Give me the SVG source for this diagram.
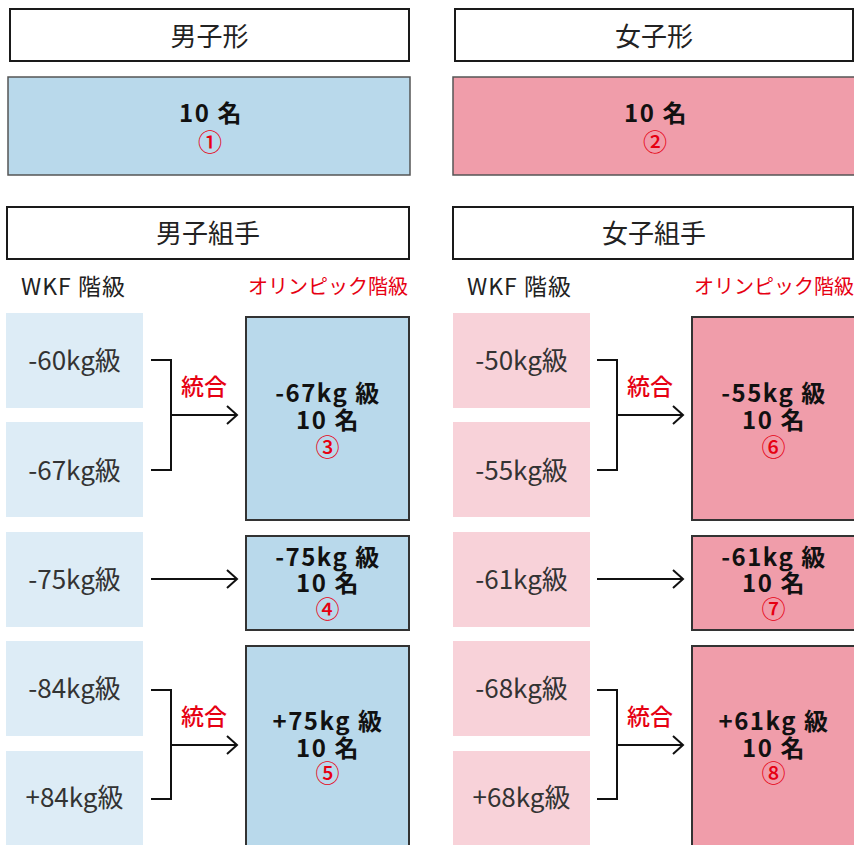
<svg xmlns="http://www.w3.org/2000/svg" width="854" height="845" viewBox="0 0 854 845">
<defs>
<style>
text{font-family:"Noto Sans CJK JP","Noto Sans",sans-serif;text-anchor:middle;}
.hdr{fill:#fff;stroke:#1a1a1a;stroke-width:2;}
.ht{font-size:26px;fill:#222;}
.bb{fill:#b9d9eb;stroke:#555;stroke-width:1.5;}
.pb{fill:#f09daa;stroke:#555;stroke-width:1.5;}
.bd{fill:#b9d9eb;stroke:#333;stroke-width:2;}
.pd{fill:#f09daa;stroke:#333;stroke-width:2;}
.lb{fill:#ddecf6;}
.lp{fill:#f8d2d9;}
.bt{font-size:24px;font-weight:bold;fill:#111;letter-spacing:1.5px;}
.num{font-size:24px;font-weight:500;fill:#e60012;}
.lt{font-size:26px;fill:#333;}
.wkf{font-size:23px;fill:#222;text-anchor:start;letter-spacing:1px;}
.oly{font-size:20px;fill:#e60012;text-anchor:start;}
.mg{font-size:23px;font-weight:500;fill:#e60012;}
.ln{fill:none;stroke:#111;stroke-width:2;}
</style>
</defs>

<g id="male-kata-header"><rect class="hdr" x="10" y="9" width="399" height="52"/><text class="ht" x="209.5" y="46">男子形</text></g>
<g id="male-kata"><rect class="bb" x="8" y="77" width="402" height="98"/><text class="bt" x="211" y="122">10 名</text><text class="num" x="210" y="151">①</text></g>
<g id="female-kata-header"><rect class="hdr" x="455" y="9" width="398" height="52"/><text class="ht" x="654" y="46">女子形</text></g>
<g id="female-kata"><rect class="pb" x="453" y="77" width="403" height="98"/><text class="bt" x="656" y="122">10 名</text><text class="num" x="655" y="151">②</text></g>

<g id="male-kumite-header"><rect class="hdr" x="7" y="207" width="402" height="52"/><text class="ht" x="208" y="243">男子組手</text></g>
<g id="female-kumite-header"><rect class="hdr" x="453" y="207" width="400" height="52"/><text class="ht" x="654" y="243">女子組手</text></g>

<g id="labels">
<text class="wkf" x="21" y="295">WKF 階級</text>
<text class="oly" x="248" y="294">オリンピック階級</text>
<text class="wkf" x="467" y="295">WKF 階級</text>
<text class="oly" x="694" y="294">オリンピック階級</text>
</g>

<g id="male-wkf">
<g id="m60"><rect class="lb" x="6" y="313" width="137" height="95"/><text class="lt" x="74.5" y="370">-60kg級</text></g>
<g id="m67"><rect class="lb" x="6" y="422" width="137" height="95"/><text class="lt" x="74.5" y="480">-67kg級</text></g>
<g id="m75"><rect class="lb" x="6" y="532" width="137" height="95"/><text class="lt" x="74.5" y="589">-75kg級</text></g>
<g id="m84"><rect class="lb" x="6" y="641" width="137" height="95"/><text class="lt" x="74.5" y="698">-84kg級</text></g>
<g id="mp84"><rect class="lb" x="6" y="751" width="137" height="95"/><text class="lt" x="74.5" y="807">+84kg級</text></g>
</g>

<g id="female-wkf">
<g id="f50"><rect class="lp" x="453" y="313" width="137" height="95"/><text class="lt" x="521.5" y="370">-50kg級</text></g>
<g id="f55"><rect class="lp" x="453" y="422" width="137" height="95"/><text class="lt" x="521.5" y="480">-55kg級</text></g>
<g id="f61"><rect class="lp" x="453" y="532" width="137" height="95"/><text class="lt" x="521.5" y="589">-61kg級</text></g>
<g id="f68"><rect class="lp" x="453" y="641" width="137" height="95"/><text class="lt" x="521.5" y="698">-68kg級</text></g>
<g id="fp68"><rect class="lp" x="453" y="751" width="137" height="95"/><text class="lt" x="521.5" y="807">+68kg級</text></g>
</g>

<g id="male-olympic">
<g id="mo67"><rect class="bd" x="246" y="317" width="163" height="203"/><text class="bt" x="328" y="402">-67kg 級</text><text class="bt" x="328" y="429">10 名</text><text class="num" x="327.5" y="456">③</text></g>
<g id="mo75"><rect class="bd" x="246" y="536" width="163" height="94"/><text class="bt" x="328" y="566">-75kg 級</text><text class="bt" x="328" y="592">10 名</text><text class="num" x="327.5" y="618">④</text></g>
<g id="mop75"><rect class="bd" x="246" y="646" width="163" height="215"/><text class="bt" x="328" y="730">+75kg 級</text><text class="bt" x="328" y="757">10 名</text><text class="num" x="327.5" y="782">⑤</text></g>
</g>

<g id="female-olympic">
<g id="fo55"><rect class="pd" x="692" y="317" width="163" height="203"/><text class="bt" x="774" y="402">-55kg 級</text><text class="bt" x="774" y="429">10 名</text><text class="num" x="773.5" y="456">⑥</text></g>
<g id="fo61"><rect class="pd" x="692" y="536" width="163" height="94"/><text class="bt" x="774" y="566">-61kg 級</text><text class="bt" x="774" y="592">10 名</text><text class="num" x="773.5" y="618">⑦</text></g>
<g id="fop61"><rect class="pd" x="692" y="646" width="163" height="215"/><text class="bt" x="774" y="730">+61kg 級</text><text class="bt" x="774" y="757">10 名</text><text class="num" x="773.5" y="782">⑧</text></g>
</g>

<g id="connectors">
<polyline class="ln" points="151,360 171,360 171,470 151,470"/>
<line class="ln" x1="171" y1="415" x2="237" y2="415"/>
<polyline class="ln" points="227,406 237,415 227,424"/>
<line class="ln" x1="151" y1="579" x2="237" y2="579"/>
<polyline class="ln" points="227,570 237,579 227,588"/>
<polyline class="ln" points="151,690 171,690 171,799 151,799"/>
<line class="ln" x1="171" y1="745" x2="237" y2="745"/>
<polyline class="ln" points="227,736 237,745 227,754"/>

<polyline class="ln" points="597,360 617,360 617,470 597,470"/>
<line class="ln" x1="617" y1="415" x2="683" y2="415"/>
<polyline class="ln" points="673,406 683,415 673,424"/>
<line class="ln" x1="597" y1="579" x2="683" y2="579"/>
<polyline class="ln" points="673,570 683,579 673,588"/>
<polyline class="ln" points="597,690 617,690 617,799 597,799"/>
<line class="ln" x1="617" y1="745" x2="683" y2="745"/>
<polyline class="ln" points="673,736 683,745 673,754"/>

<text class="mg" x="204" y="395">統合</text>
<text class="mg" x="204" y="725">統合</text>
<text class="mg" x="650" y="395">統合</text>
<text class="mg" x="650" y="725">統合</text>
</g>
</svg>
